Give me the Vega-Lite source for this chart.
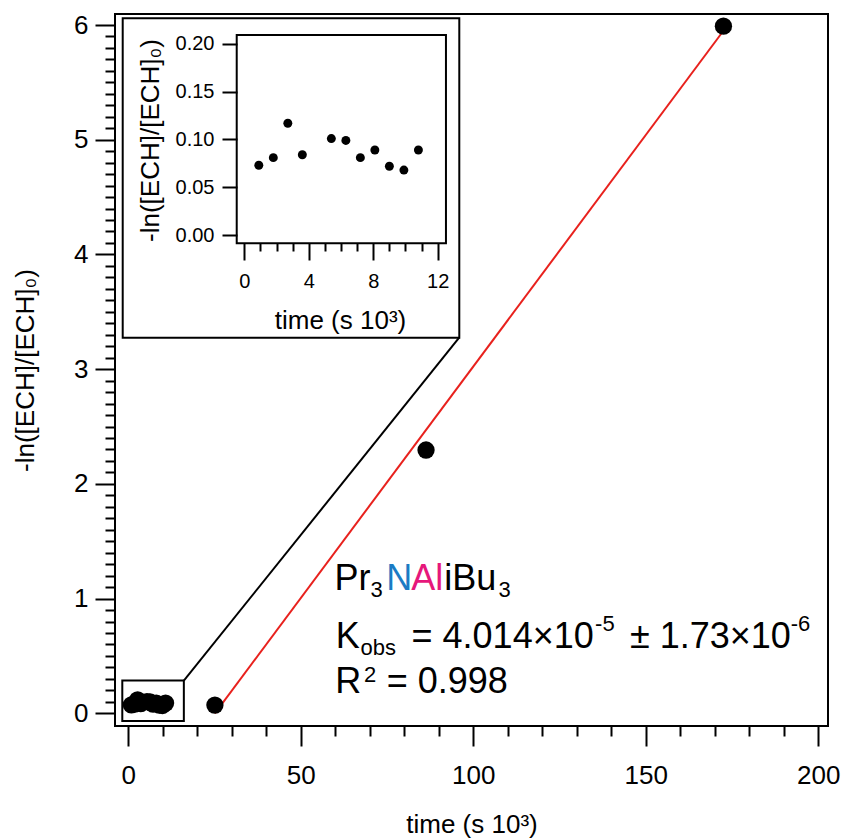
{
  "$schema": "https://vega.github.io/schema/vega-lite/v6.json",
  "autosize": {"type": "none"},
  "width": 713,
  "height": 712,
  "padding": {"left": 115, "top": 14, "right": 15, "bottom": 113},
  "background": "white",
  "config": {
    "view": {"stroke": "black", "strokeWidth": 2},
    "font": "Liberation Sans",
    "axis": {"labelFont": "Liberation Sans", "titleFont": "Liberation Sans", "labelColor": "black", "titleColor": "black", "tickColor": "black", "titleFontWeight": "normal", "grid": false, "domain": false, "labelOverlap": false, "labelFlush": false}
  },
  "datasets": {
    "inset": [
      {"t": 0.9, "v": 0.073}, {"t": 1.8, "v": 0.081}, {"t": 2.7, "v": 0.117}, {"t": 3.6, "v": 0.084},
      {"t": 5.4, "v": 0.101}, {"t": 6.3, "v": 0.099}, {"t": 7.2, "v": 0.081}, {"t": 8.1, "v": 0.089},
      {"t": 9.0, "v": 0.072}, {"t": 9.9, "v": 0.068}, {"t": 10.8, "v": 0.089}
    ],
    "main": [{"t": 25.1, "v": 0.072}, {"t": 86.3, "v": 2.295}, {"t": 172.5, "v": 5.99}],
    "fit": [{"t": 25.1, "v": 0.0}, {"t": 172.5, "v": 5.95}],
    "connector": [{"t": 16.1, "v": 0.285}, {"t": 95.9, "v": 3.274}],
    "boxes": [
      {"t": -1.74, "t2": 16.1, "v": -0.067, "v2": 0.285},
      {"t": -1.62, "t2": 95.94, "v": 3.274, "v2": 6.058}
    ],
    "insetFrame": [{"t": -0.47, "t2": 12.51, "v": -0.0087, "v2": 0.2094}],
    "bigText": [
      {"text": "Pr", "t": 59.8, "v": 1.075, "part": "plain"},
      {"text": "N", "t": 74.8, "v": 1.075, "part": "N"},
      {"text": "Al", "t": 82.0, "v": 1.075, "part": "Al"},
      {"text": "iBu", "t": 91.6, "v": 1.075, "part": "plain"},
      {"text": "K", "t": 60.1, "v": 0.567, "part": "plain"},
      {"text": "= 4.014×10", "t": 82.1, "v": 0.567, "part": "plain"},
      {"text": "± 1.73×10", "t": 145.4, "v": 0.567, "part": "plain"},
      {"text": "R", "t": 60.0, "v": 0.174, "part": "plain"},
      {"text": "= 0.998", "t": 74.9, "v": 0.174, "part": "plain"}
    ],
    "smallText": [
      {"text": "3", "t": 70.2, "v": 1.016, "part": "plain"},
      {"text": "3", "t": 107.3, "v": 1.016, "part": "plain"},
      {"text": "obs", "t": 67.3, "v": 0.508, "part": "plain"},
      {"text": "-5", "t": 135.3, "v": 0.72, "part": "plain"},
      {"text": "-6", "t": 192.0, "v": 0.72, "part": "plain"},
      {"text": "2", "t": 68.3, "v": 0.273, "part": "plain"}
    ]
  },
  "resolve": {"scale": {"x": "independent", "y": "independent"}, "axis": {"x": "independent", "y": "independent"}},
  "layer": [
    {
      "encoding": {
        "x": {"field": "t", "type": "quantitative", "scale": {"domain": [-3.855, 202.81], "nice": false, "zero": false},
          "axis": {"orient": "bottom", "values": [0,10,20,30,40,50,60,70,80,90,100,110,120,130,140,150,160,170,180,190,200],
            "tickWidth": 2, "tickSize": {"condition": {"test": "datum.value % 50 === 0", "value": 20}, "value": 10},
            "labelExpr": "datum.value % 50 === 0 ? datum.label : ''", "labelFontSize": 26, "labelPadding": 16,
            "title": "time (s 10³)", "titleFontSize": 26, "titleBaseline": "alphabetic", "titleY": 106}},
        "y": {"field": "v", "type": "quantitative", "scale": {"domain": [-0.1107, 6.096], "nice": false, "zero": false},
          "axis": {"orient": "left", "values": [0,0.1,0.2,0.3,0.4,0.5,0.6,0.7,0.8,0.9,1,1.1,1.2,1.3,1.4,1.5,1.6,1.7,1.8,1.9,2,2.1,2.2,2.3,2.4,2.5,2.6,2.7,2.8,2.9,3,3.1,3.2,3.3,3.4,3.5,3.6,3.7,3.8,3.9,4,4.1,4.2,4.3,4.4,4.5,4.6,4.7,4.8,4.9,5,5.1,5.2,5.3,5.4,5.5,5.6,5.7,5.8,5.9,6],
            "tickWidth": 2, "tickSize": {"condition": {"test": "abs(datum.value - round(datum.value)) < 0.001", "value": 20}, "value": 10},
            "labelExpr": "abs(datum.value - round(datum.value)) < 0.001 ? format(round(datum.value), 'd') : ''",
            "labelFontSize": 26, "labelPadding": 7,
            "title": "-ln([ECH]/[ECH]₀)", "titleFontSize": 26, "titleX": -77}}
      },
      "layer": [
        {
          "data": {"name": "boxes"},
          "mark": {"type": "rect", "fill": "white", "stroke": "black", "strokeWidth": 2},
          "encoding": {"x2": {"field": "t2"}, "y2": {"field": "v2"}}
        },
        {
          "data": {"name": "connector"},
          "mark": {"type": "line", "color": "black", "strokeWidth": 2},
          "encoding": {}
        },
        {
          "data": {"name": "fit"},
          "mark": {"type": "line", "color": "#e8211d", "strokeWidth": 2},
          "encoding": {}
        },
        {
          "data": {"name": "inset"},
          "mark": {"type": "circle", "color": "black", "opacity": 1, "size": 300},
          "encoding": {}
        },
        {
          "data": {"name": "main"},
          "mark": {"type": "circle", "color": "black", "opacity": 1, "size": 300},
          "encoding": {}
        },
        {
          "data": {"name": "bigText"},
          "mark": {"type": "text", "fontSize": 36, "align": "left", "baseline": "alphabetic", "font": "Liberation Sans"},
          "encoding": {
            "text": {"field": "text"},
            "color": {"field": "part", "type": "nominal", "scale": {"domain": ["plain", "N", "Al"], "range": ["#000000", "#1b7bc4", "#e6177b"]}, "legend": null}
          }
        },
        {
          "data": {"name": "smallText"},
          "mark": {"type": "text", "fontSize": 22, "align": "left", "baseline": "alphabetic", "font": "Liberation Sans"},
          "encoding": {
            "text": {"field": "text"},
            "color": {"field": "part", "type": "nominal", "scale": {"domain": ["plain", "N", "Al"], "range": ["#000000", "#1b7bc4", "#e6177b"]}, "legend": null}
          }
        }
      ]
    },
    {
      "encoding": {
        "x": {"field": "t", "type": "quantitative", "scale": {"domain": [-8.021, 36.21], "nice": false, "zero": false},
          "axis": {"orient": "bottom", "offset": -483, "zindex": 2, "values": [0,1,2,3,4,5,6,7,8,9,10,11,12],
            "tickWidth": 2, "tickSize": {"condition": {"test": "datum.value % 4 === 0", "value": 17}, "value": 8},
            "labelExpr": "datum.value % 4 === 0 ? datum.label : ''", "labelFontSize": 20, "labelPadding": 11,
            "title": "time (s 10³)", "titleFontSize": 26, "titleBaseline": "alphabetic", "titleX": 225, "titleY": 85}},
        "y": {"field": "v", "type": "quantitative", "scale": {"domain": [-0.5141, 0.2314], "nice": false, "zero": false},
          "axis": {"orient": "left", "offset": -122, "zindex": 2, "values": [0, 0.05, 0.1, 0.15, 0.2], "format": ".2f",
            "tickWidth": 2, "tickSize": 15, "labelFontSize": 20, "labelPadding": 8,
            "title": "-ln([ECH]/[ECH]₀)", "titleFontSize": 26, "titleX": -74, "titleY": 126}}
      },
      "layer": [
        {
          "data": {"name": "insetFrame"},
          "mark": {"type": "rect", "fill": "white", "stroke": "black", "strokeWidth": 2},
          "encoding": {"x2": {"field": "t2"}, "y2": {"field": "v2"}}
        },
        {
          "data": {"name": "inset"},
          "mark": {"type": "circle", "color": "black", "opacity": 1, "size": 80},
          "encoding": {}
        }
      ]
    }
  ]
}
